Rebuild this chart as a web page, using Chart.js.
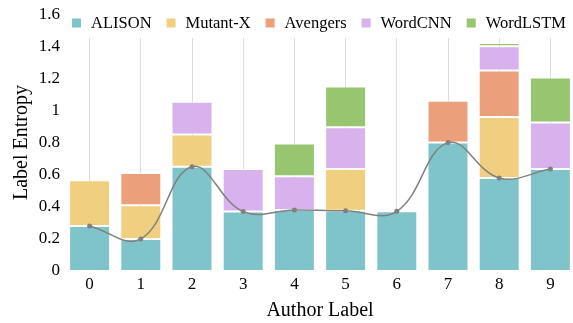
<!DOCTYPE html>
<html>
<head>
<meta charset="utf-8">
<script src="https://cdn.jsdelivr.net/npm/chart.js@4"></script>
<style>
  html, body { margin: 0; padding: 0; background: #fff; overflow: hidden; }
  #wrap { width: 573px; height: 323px; overflow: hidden; }
</style>
</head>
<body>
<div id="wrap"><canvas id="entropyChart" width="580" height="323"></canvas></div>
<script>
const authorLabels = ["0", "1", "2", "3", "4", "5", "6", "7", "8", "9"];

const alison   = [0.28, 0.20, 0.65, 0.37, 0.38, 0.375, 0.372, 0.80, 0.58, 0.635];
const mutantX  = [0.285, 0.21, 0.20, 0, 0, 0.26, 0, 0, 0.38, 0];
const avengers = [0, 0.20, 0, 0, 0, 0, 0, 0.26, 0.29, 0];
const wordCNN  = [0, 0, 0.205, 0.265, 0.21, 0.26, 0, 0, 0.15, 0.29];
const wordLSTM = [0, 0, 0, 0, 0.205, 0.255, 0, 0, 0.02, 0.28];

const seriesNames = ["ALISON", "Mutant-X", "Avengers", "WordCNN", "WordLSTM"];
const seriesColors = ["#7ec4ca", "#f0d080", "#eba07b", "#d8b2ec", "#98c56f"];

const serif = "'Liberation Serif', 'Times New Roman', serif";

const barSets = [alison, mutantX, avengers, wordCNN, wordLSTM].map((vals, i) => ({
    type: "bar",
    label: seriesNames[i],
    data: vals,
    backgroundColor: seriesColors[i],
    borderColor: "rgba(255,255,255,0.7)",
    borderWidth: 1,
    borderSkipped: false,
    stack: "bars",
    order: 1,
    categoryPercentage: 0.8,
    barPercentage: 1.0
}));

// gray curve through the ALISON values
const trendLine = {
    type: "line",
    label: "trend",
    data: alison,
    borderColor: "#808080",
    borderWidth: 1.5,
    pointRadius: 2.5,
    pointBackgroundColor: "#808080",
    pointBorderWidth: 0,
    tension: 0.4,
    fill: false,
    stack: "line",
    order: 0
};

// legend drawn inside the plot on a white strip
const insideLegend = {
    id: "insideLegend",
    beforeDatasetsDraw(chart) {
        const ctx = chart.ctx;
        ctx.save();
        ctx.font = "16.5px " + serif;
        const box = 9, gapBox = 10, gapItem = 15;
        const widths = seriesNames.map(n => box + gapBox + ctx.measureText(n).width);
        const total = widths.reduce((a, b) => a + b, 0) + gapItem * (widths.length - 1);
        let x = 319 - total / 2;
        const cy = 23;
        ctx.fillStyle = "#ffffff";
        ctx.fillRect(x - 4, 8, total + 8, 30);
        ctx.textBaseline = "middle";
        seriesNames.forEach((n, i) => {
            ctx.fillStyle = seriesColors[i];
            ctx.fillRect(x, cy - box / 2, box, box);
            ctx.fillStyle = "#000";
            ctx.fillText(n, x + box + gapBox, cy + 1);
            x += widths[i] + gapItem;
        });
        ctx.restore();
    }
};

new Chart(document.getElementById("entropyChart"), {
    data: {
        labels: authorLabels,
        datasets: [...barSets, trendLine]
    },
    options: {
        responsive: false,
        animation: false,
        layout: { padding: { top: 10, right: 0, left: 0, bottom: 0 } },
        plugins: {
            legend: { display: false },
            tooltip: { enabled: false }
        },
        scales: {
            x: {
                stacked: true,
                offset: true,
                border: { display: false },
                grid: { display: true, offset: false, color: "#dcdcdc", drawTicks: false },
                ticks: { color: "#000", padding: 3, font: { family: serif, size: 17 } },
                title: {
                    display: true,
                    text: "Author Label",
                    color: "#000",
                    font: { family: serif, size: 20, lineHeight: 1.2 },
                    padding: { top: 0, bottom: 0 }
                },
                afterFit(scale) { scale.height = 52; }
            },
            y: {
                stacked: true,
                min: 0,
                max: 1.6,
                border: { display: false },
                grid: { display: false, drawTicks: false },
                ticks: {
                    stepSize: 0.2,
                    color: "#000",
                    padding: 4,
                    font: { family: serif, size: 17 },
                    callback: v => String(Number(v.toFixed(1)))
                },
                title: {
                    display: true,
                    text: "Label Entropy",
                    color: "#000",
                    font: { family: serif, size: 20, lineHeight: 1.2 },
                    padding: { top: 10, bottom: 0 }
                },
                afterFit(scale) { scale.width = 64; }
            }
        }
    },
    plugins: [insideLegend]
});
</script>
</body>
</html>
